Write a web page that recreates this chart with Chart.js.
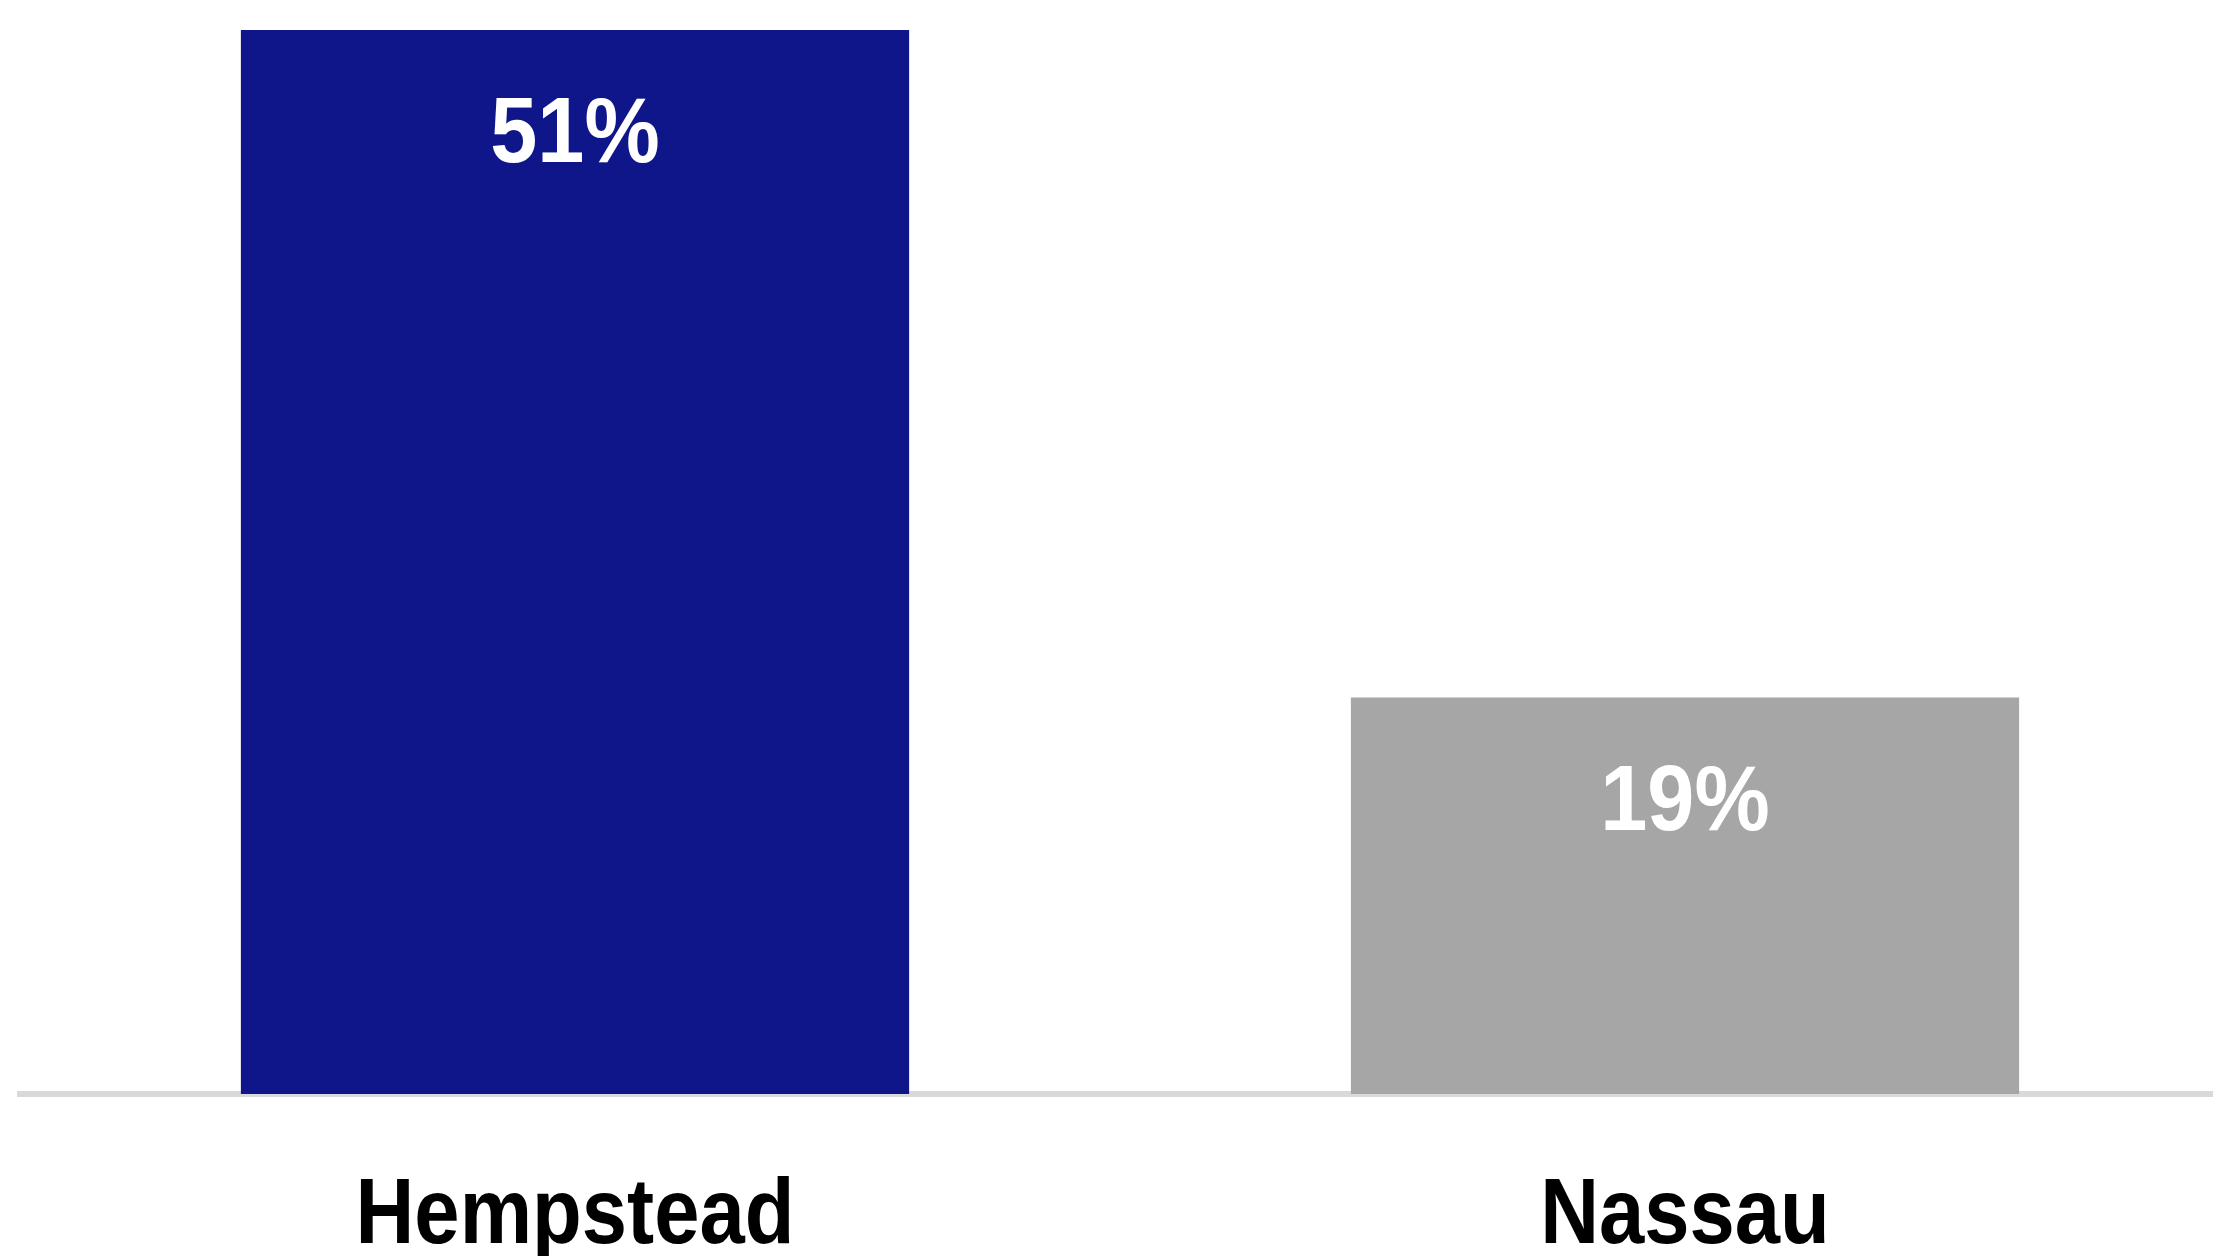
<!DOCTYPE html>
<html>
<head>
<meta charset="utf-8">
<script src="https://cdn.jsdelivr.net/npm/chart.js@4/dist/chart.umd.min.js"></script>
<style>
    html, body { margin: 0; padding: 0; background: #ffffff; overflow: hidden; }
    #wrap { position: relative; width: 2240px; height: 1256px; }
</style>
</head>
<body>
<div id="wrap"><canvas id="bars"></canvas></div>
<script>
const categories = ['Hempstead', 'Nassau'];
const shares = [51, 19];
const barColors = ['#0f1689', '#a6a6a6'];

const FONT = '"Liberation Sans", Arial, sans-serif';

// texto bold algo estrechado (no hay fuente condensada instalada)
const drawNarrow = (ctx, text, x, y, squeeze) => {
    ctx.save();
    ctx.translate(x, y);
    ctx.scale(squeeze, 1);
    ctx.fillText(text, 0, 0);
    ctx.restore();
};

const barTexts = {
    id: 'barTexts',
    afterDraw(chart) {
        const ctx = chart.ctx;
        const meta = chart.getDatasetMeta(0);
        const xScale = chart.scales.x;
        const bottom = chart.chartArea.bottom;
        ctx.save();
        ctx.textAlign = 'center';
        ctx.textBaseline = 'alphabetic';

        // valores dentro de las barras
        ctx.fillStyle = '#ffffff';
        ctx.font = 'bold 92px ' + FONT;
        meta.data.forEach((bar, i) => {
            drawNarrow(ctx, shares[i] + '%', bar.x, bar.y + 132, 0.92);
        });

        // nombres de categoría bajo el eje
        ctx.fillStyle = '#000000';
        ctx.font = 'bold 92px ' + FONT;
        categories.forEach((name, i) => {
            drawNarrow(ctx, name, xScale.getPixelForTick(i), bottom + 149, 0.885);
        });
        ctx.restore();
    }
};

new Chart(document.getElementById('bars'), {
    type: 'bar',
    data: {
        labels: categories,
        datasets: [{
            data: shares,
            backgroundColor: barColors,
            borderWidth: 0,
            categoryPercentage: 1,
            barPercentage: 0.602
        }]
    },
    options: {
        responsive: true,
        maintainAspectRatio: false,
        animation: false,
        layout: { padding: { top: 30, left: 20, right: 0, bottom: 162 } },
        scales: {
            x: {
                z: 1,
                grid: { display: false, drawTicks: false },
                border: { display: true, color: '#d9d9d9', width: 6 },
                ticks: { display: false }
            },
            y: {
                display: false,
                min: 0,
                max: 51
            }
        },
        plugins: {
            legend: { display: false },
            tooltip: { enabled: false }
        }
    },
    plugins: [barTexts]
});
</script>
</body>
</html>
